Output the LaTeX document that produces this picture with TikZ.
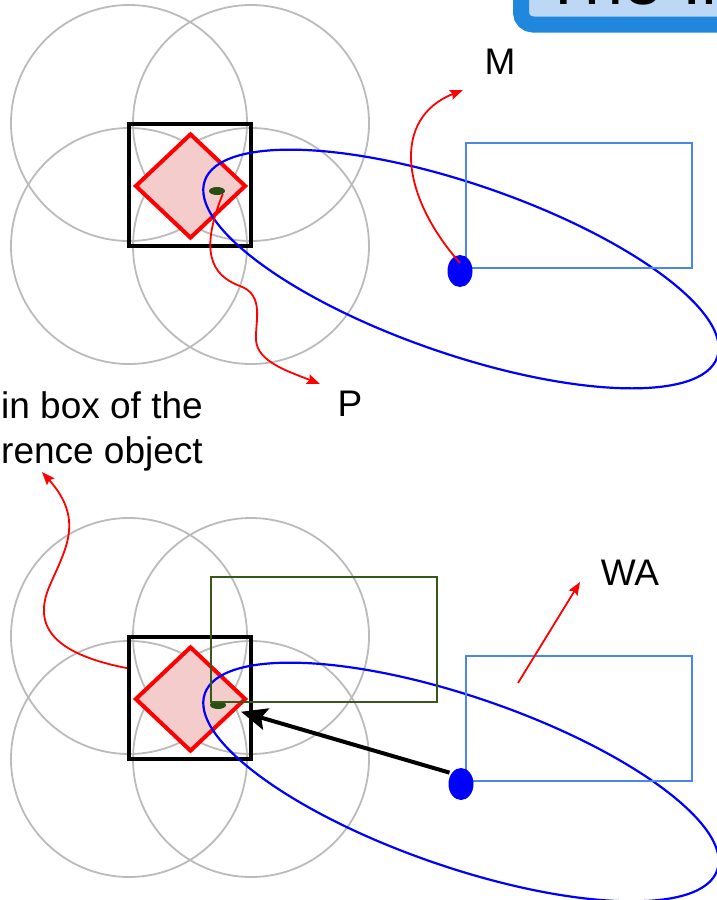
\documentclass[tikz,border=0pt]{standalone}
\usepackage{fontspec}
\setmainfont{Liberation Sans}
\usetikzlibrary{shapes.geometric,arrows.meta}
\definecolor{ringgray}{HTML}{BBBBBB}
\definecolor{pinkfill}{HTML}{F4CCCC}
\definecolor{winblue}{HTML}{4A86E8}
\definecolor{seedgreen}{HTML}{274E13}
\definecolor{framegreen}{HTML}{38571A}
\definecolor{titleblue}{HTML}{1F88DC}
\definecolor{titlefill}{HTML}{BDD8F5}
\tikzstyle{ring}=[ringgray, line width=1.8pt]
\tikzstyle{refbox}=[draw, black, line width=4pt, minimum size=122pt, inner sep=0pt]
\tikzstyle{zone}=[diamond, draw=red, fill=pinkfill, line width=4pt, minimum width=111pt, minimum height=105pt, inner sep=0pt]
\tikzstyle{seed}=[ellipse, fill=seedgreen, minimum width=16pt, minimum height=8pt, inner sep=0pt]
\tikzstyle{orbit}=[blue, line width=2.2pt]
\tikzstyle{spot}=[ellipse, fill=blue, minimum width=25pt, minimum height=32pt, inner sep=0pt]
\tikzstyle{win}=[winblue, line width=1.8pt]
\tikzstyle{pointer}=[red, line width=1.8pt, -{Stealth[length=13pt,width=10pt,inset=2pt]}]
\tikzstyle{push}=[black, line width=4pt, -{Stealth[length=26pt,width=22pt,inset=5pt]}]
\tikzstyle{lbl}=[font=\fontsize{37}{45}\selectfont]

\begin{document}
\begin{tikzpicture}[x=1pt, y=-1pt]
\clip (0,0) rectangle (717,900);
% Title tab
    \draw[titleblue, fill=titlefill, line width=16pt, rounded corners=12pt] (521,-40) rectangle (780,24.5);
    \node[anchor=base west, inner sep=0pt, font=\fontsize{70}{84}\selectfont] (title) at (542,4) {The In};
% Upper layout: rings around the box
    \draw[ring] (129,123) circle (118);
    \draw[ring] (251,123) circle (118);
    \draw[ring] (129,246) circle (118);
    \draw[ring] (251,246) circle (118);
    \node[refbox] (box1) at (190,184.5) {};
    \node[zone] (zone1) at (190.5,186) {};
    \node[seed] (seed1) at (217,191) {};
    \draw[orbit, rotate around={-19:(461,269)}] (461,269) ellipse [x radius=271, y radius=85];
    \draw[win] (466,143) rectangle (692,268);
    \node[spot] (spot1) at (460,271) {};
% Lower layout
    \draw[ring] (129,636) circle (118);
    \draw[ring] (251,636) circle (118);
    \draw[ring] (129,759) circle (118);
    \draw[ring] (251,759) circle (118);
    \node[refbox] (box2) at (190,697.5) {};
    \node[zone] (zone2) at (190.5,699) {};
    \node[seed] (seed2) at (218,705) {};
    \draw[orbit, rotate around={-19:(461,782)}] (461,782) ellipse [x radius=271, y radius=85];
    \draw[win] (466,656) rectangle (692,781);
    \draw[framegreen, line width=1.8pt] (211,577) rectangle (437,702);
    \node[spot] (spot2) at (461,784) {};
% Labels
    \node[lbl] (mlabel) at (500,62) {M};
    \node[lbl] (plabel) at (350,404) {P};
    \node[lbl] (walabel) at (630,573) {WA};
    \node[lbl, align=left, anchor=west, inner sep=0pt] (reflabel) at (1,431) {in box of the\\rence object};
% Arrow ends
    \coordinate (mtip) at (463,90);
    \coordinate (ptip) at (320,384);
    \coordinate (reftip) at (42,472);
    \coordinate (wafoot) at (518,683);
    \coordinate (watip) at (580,582);
% Arrows
    \draw[pointer] ([yshift=8pt]spot1.center) .. controls (400,195) and (392,118) .. (mtip);
    \draw[pointer] (seed1.south east) .. controls (200,250) and (210,275) .. (240,286)
        .. controls (265,295) and (255,322) .. (256,340) .. controls (257,362) and (290,372) .. (ptip);
    \draw[pointer] (box2.155) .. controls (60,655) and (30,630) .. (50,585)
        .. controls (65,550) and (85,520) .. (reftip);
    \draw[pointer] (wafoot) -- (watip);
    \draw[push, shorten <=12pt, shorten >=24pt] ([yshift=8pt]spot2.center) -- (seed2.center);
\end{tikzpicture}
\end{document}
